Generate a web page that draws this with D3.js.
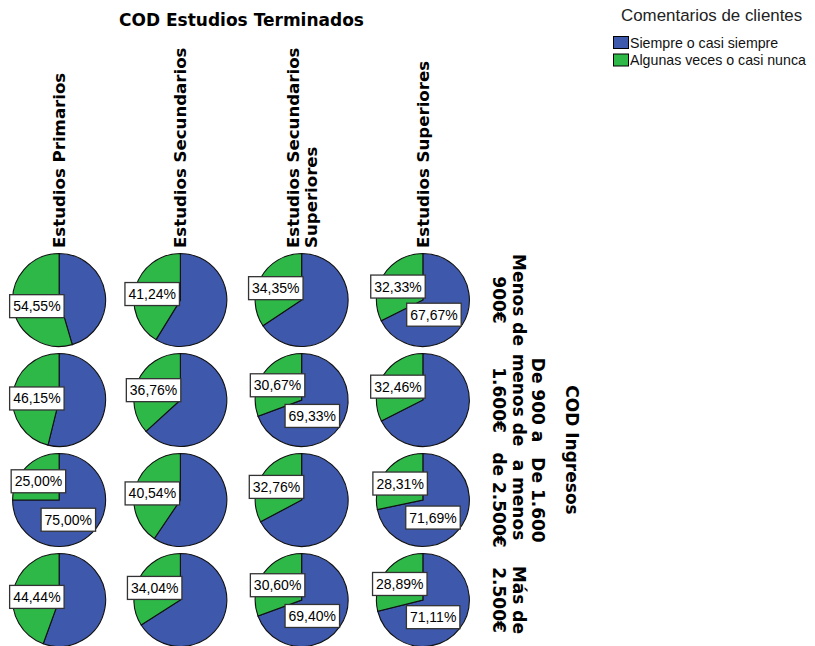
<!DOCTYPE html>
<html><head><meta charset="utf-8">
<script src="https://cdn.jsdelivr.net/npm/d3@7"></script>
<style>body{margin:0;background:#fff}svg{display:block}</style>
</head><body><svg id="c" width="815" height="646"></svg>
<script>
const title = "COD Estudios Terminados";
const rowTitle = "COD Ingresos";
const legendTitle = "Comentarios de clientes";
const seriesNames = ["Siempre o casi siempre", "Algunas veces o casi nunca"];
const seriesColors = ["#3e58ac", "#2eb848"];
const columns = ["Estudios Primarios", "Estudios Secundarios", "Estudios Secundarios Superiores", "Estudios Superiores"];
const columnLines = [["Estudios Primarios"], ["Estudios Secundarios"], ["Estudios Secundarios", "Superiores"], ["Estudios Superiores"]];
const rows = ["Menos de 900€", "De 900 a menos de 1.600€", "De 1.600 a menos de 2.500€", "Más de 2.500€"];
const rowLines = [["Menos de", "900€"], ["De 900 a", "menos de", "1.600€"], ["De 1.600", "a menos", "de 2.500€"], ["Más de", "2.500€"]];
// percentages, rows x columns
const siempre = [
  [45.45, 58.76, 65.65, 67.67],
  [53.85, 63.24, 69.33, 67.54],
  [75.00, 59.46, 67.24, 71.69],
  [55.56, 65.96, 69.40, 71.11]
];
const algunas = [
  [54.55, 41.24, 34.35, 32.33],
  [46.15, 36.76, 30.67, 32.46],
  [25.00, 40.54, 32.76, 28.31],
  [44.44, 34.04, 30.60, 28.89]
];
// which "Siempre" slices carry a visible label
const siempreLabelShown = [
  [false, false, false, true],
  [false, false, true, false],
  [true, false, false, true],
  [false, false, true, true]
];

const svg = d3.select("#c");
const x = d3.scaleBand().domain(columns).range([-1.5, 483.5]);
const y = d3.scaleBand().domain(rows).range([250, 650]);
const r = 46.5;
const color = d3.scaleOrdinal().domain(seriesNames).range(seriesColors);
const fmt = v => d3.format(".2f")(v).replace(".", ",") + "%";
const boldFont = "DejaVu Sans, sans-serif";
const plainFont = "Liberation Sans, Arial, sans-serif";

// title
svg.append("text").attr("x", 241.5).attr("y", 25.5).attr("text-anchor", "middle")
  .attr("font-family", boldFont).attr("font-weight", "bold").attr("font-size", 17).text(title);

// column headers
columns.forEach((c, ci) => {
  const lines = columnLines[ci];
  const cx = x(c) + x.bandwidth() / 2;
  const lh = 18;
  const g = svg.append("g").attr("transform", `translate(${cx + 6 - (lines.length - 1) * lh / 2},248) rotate(-90)`);
  const t = g.append("text").attr("font-family", boldFont).attr("font-weight", "bold").attr("font-size", 16.6).attr("text-anchor", "start");
  lines.forEach((l, i) => t.append("tspan").attr("x", 0).attr("y", i * lh).text(l));
});

// row labels
rows.forEach((rw, ri) => {
  const lines = rowLines[ri];
  const cy = y(rw) + y.bandwidth() / 2;
  const lh = 19.5;
  const g = svg.append("g").attr("transform", `translate(493,${cy}) rotate(90)`);
  const t = g.append("text").attr("font-family", boldFont).attr("font-weight", "bold").attr("font-size", 17).attr("text-anchor", "middle");
  lines.forEach((l, i) => t.append("tspan").attr("x", 0).attr("y", -(lines.length - 1 - i) * lh).text(l));
});
svg.append("g").attr("transform", `translate(566,450) rotate(90)`).append("text")
  .attr("text-anchor", "middle").attr("font-family", boldFont).attr("font-weight", "bold").attr("font-size", 17).text(rowTitle);

// legend
svg.append("text").attr("x", 621).attr("y", 21).attr("font-family", plainFont).attr("font-size", 16.9).attr("fill", "#222").text(legendTitle);
seriesNames.forEach((s, i) => {
  svg.append("rect").attr("x", 613.5).attr("y", 36.5 + i * 17.5).attr("width", 15).attr("height", 12)
    .attr("fill", color(s)).attr("stroke", "#000").attr("stroke-width", 1);
  svg.append("text").attr("x", 630).attr("y", 47.5 + i * 17.5).attr("font-family", plainFont).attr("font-size", 14.2).attr("fill", "#111").text(s);
});

// pies
const pie = d3.pie().sort(null).value(d => d.v);
const arc = d3.arc().innerRadius(0).outerRadius(r);
const labels = [];
rows.forEach((rw, ri) => {
  columns.forEach((c, ci) => {
    const cx = x(c) + x.bandwidth() / 2;
    const cy = y(rw) + y.bandwidth() / 2;
    const data = [{ s: seriesNames[0], v: siempre[ri][ci], show: siempreLabelShown[ri][ci] },
                  { s: seriesNames[1], v: algunas[ri][ci], show: true }];
    const arcs = pie(data);
    const g = svg.append("g").attr("transform", `translate(${cx},${cy})`);
    g.selectAll("path").data(arcs).join("path").attr("d", arc)
      .attr("fill", d => color(d.data.s)).attr("stroke", "#111").attr("stroke-width", 1.1);
    const green = arcs[1], blue = arcs[0];
    const mg = (green.startAngle + green.endAngle) / 2;
    const gl = { cx: cx + Math.sin(mg) * r * 0.63, cy: cy - Math.cos(mg) * r * 0.63 + 2, text: fmt(green.data.v),
                 leftBound: x(columns[0]) + x.bandwidth() / 2 - r - 3 };
    labels.push(gl);
    if (blue.data.show) {
      const mb = (blue.startAngle + blue.endAngle) / 2;
      labels.push({ cx: cx + Math.sin(mb) * r * 0.28, cy: cy - Math.cos(mb) * r * 0.6, text: fmt(blue.data.v), below: gl });
    }
  });
});
const lg = svg.append("g");
const bh = 23;
labels.forEach(L => {
  const t = lg.append("text").attr("font-family", plainFont).attr("font-size", 14)
    .attr("text-anchor", "middle").attr("fill", "#000").text(L.text);
  const w = t.node().getComputedTextLength() + 7;
  if (L.leftBound !== undefined && L.cx - w / 2 < L.leftBound) L.cx = L.leftBound + w / 2;
  if (L.below) {
    const gb = L.below.cy + bh / 2;
    if (L.cy - bh / 2 < gb + 1) L.cy = gb + 1 + bh / 2;
  }
  t.attr("x", L.cx).attr("y", L.cy + 5);
  lg.insert("rect", () => t.node()).attr("x", L.cx - w / 2).attr("y", L.cy - bh / 2).attr("width", w).attr("height", bh)
    .attr("fill", "#fff").attr("stroke", "#333").attr("stroke-width", 1.3);
});
</script></body></html>
